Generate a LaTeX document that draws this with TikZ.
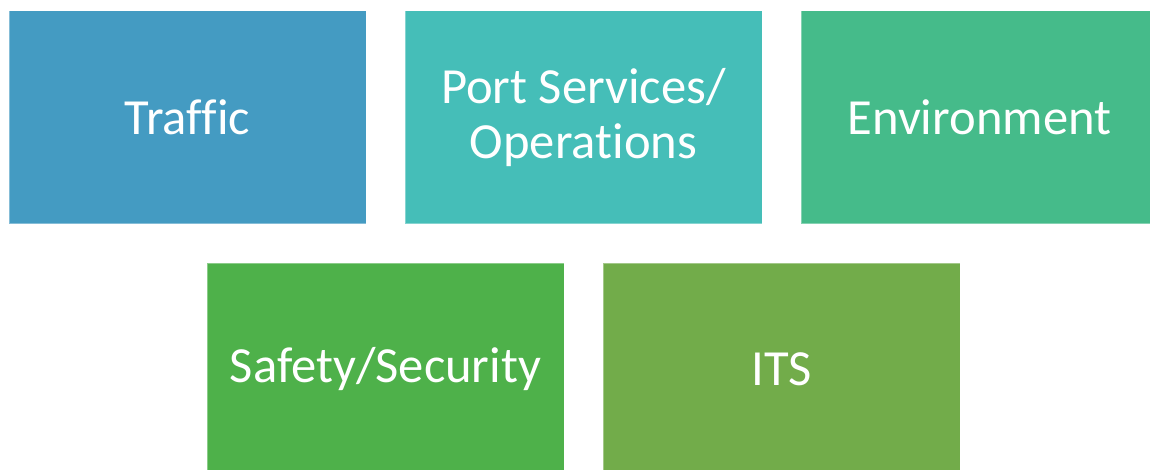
\documentclass[tikz,border=0pt]{standalone}
\usepackage{fontspec}
\setmainfont{Carlito}[Ligatures=NoCommon]
\definecolor{cTraffic}{HTML}{449BC2}
\definecolor{cPort}{HTML}{45BEB8}
\definecolor{cEnv}{HTML}{45BB8A}
\definecolor{cSafe}{HTML}{4EB14A}
\definecolor{cIts}{HTML}{72AC4A}
\begin{document}
\begin{tikzpicture}[x=1pt,y=-1pt,
  tile/.style={draw=white, draw opacity=0.35, line width=1pt,
    minimum width=357pt, minimum height=213pt, inner sep=0pt,
    text=white, align=center,
    font=\fontsize{50.6}{55}\selectfont}]
  \useasboundingbox (0,0) rectangle (1150,470);
  \begin{scope}
    \clip (0,0) rectangle (1150,470);
    \node[tile, fill=cTraffic] (traffic) at (187.5,117.5) {Traffic};
    \node[tile, fill=cPort] (port) at (583.5,117.5) {Port Services/\\Operations};
    \node[tile, fill=cEnv] (env) at (979.5,117.5) {Environment};
    \node[tile, fill=cSafe] (safety) at (385.5,369.5) {Safety/Security};
    \node[tile, fill=cIts] (its) at (781.5,369.5) {ITS};
  \end{scope}
\end{tikzpicture}
\end{document}
